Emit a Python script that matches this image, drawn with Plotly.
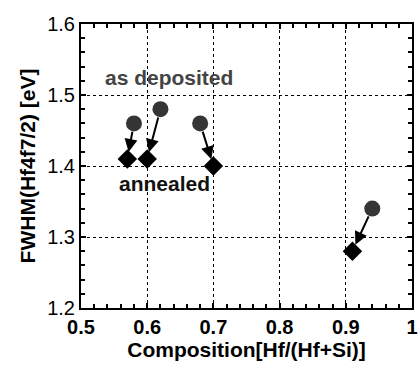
import plotly.graph_objects as go

# data
dep_x = [0.58, 0.62, 0.68, 0.94]
dep_y = [1.46, 1.48, 1.46, 1.34]
ann_x = [0.57, 0.60, 0.70, 0.91]
ann_y = [1.41, 1.41, 1.40, 1.28]
x_ticks = [0.5, 0.6, 0.7, 0.8, 0.9, 1.0]
x_labels = ["0.5", "0.6", "0.7", "0.8", "0.9", "1"]
y_ticks = [1.2, 1.3, 1.4, 1.5, 1.6]
y_labels = ["1.2", "1.3", "1.4", "1.5", "1.6"]

FONT = "Liberation Sans, Arial, sans-serif"

fig = go.Figure()
fig.add_trace(go.Scatter(x=dep_x, y=dep_y, mode="markers",
                         marker=dict(symbol="circle", size=16, color="#353535"),
                         showlegend=False))
fig.add_trace(go.Scatter(x=ann_x, y=ann_y, mode="markers",
                         marker=dict(symbol="diamond", size=15, color="#000000"),
                         showlegend=False))

for x0, y0, x1, y1 in zip(dep_x, dep_y, ann_x, ann_y):
    fig.add_annotation(x=x1, y=y1, ax=x0, ay=y0, xref="x", yref="y", axref="x", ayref="y",
                       text="", showarrow=True, arrowhead=2, arrowsize=1.3, arrowwidth=2,
                       arrowcolor="black", standoff=7, startstandoff=7)

fig.add_annotation(x=0.633, y=1.524, xref="x", yref="y", text="<b>as deposited</b>", showarrow=False,
                   font=dict(family=FONT, size=21, color="#444444"))
fig.add_annotation(x=0.626, y=1.376, xref="x", yref="y", text="<b>annealed</b>", showarrow=False,
                   font=dict(family=FONT, size=21, color="#111111"))

axis_common = dict(showline=True, linecolor="black", linewidth=2, mirror="ticks",
                   ticks="inside", ticklen=5, tickwidth=1.5, tickcolor="black",
                   showgrid=True, gridcolor="black", griddash="dot", gridwidth=1,
                   zeroline=False)

fig.update_xaxes(range=[0.5, 1.0], tickvals=x_ticks, ticktext=["<b>%s</b>" % t for t in x_labels],
                 ticklabeloverflow="allow",
                 minor=dict(dtick=0.02, ticks="inside", ticklen=4, tickcolor="black", showgrid=False),
                 tickfont=dict(family=FONT, size=20, color="black"),
                 title=dict(text="<b>Composition[Hf/(Hf+Si)]</b>", font=dict(family=FONT, size=21, color="black"), standoff=4),
                 **axis_common)
fig.update_yaxes(range=[1.2, 1.6], tickvals=y_ticks, ticktext=y_labels,
                 minor=dict(dtick=0.02, ticks="inside", ticklen=4, tickcolor="black", showgrid=False),
                 tickfont=dict(family=FONT, size=20, color="black"),
                 title=dict(text="<b>FWHM(Hf4f7/2) [eV]</b>", font=dict(family=FONT, size=21, color="black"), standoff=6),
                 **axis_common)

fig.update_layout(width=419, height=365, margin=dict(l=81, r=1, t=24, b=57),
                  plot_bgcolor="white", paper_bgcolor="white")

fig.write_html("out.html")
